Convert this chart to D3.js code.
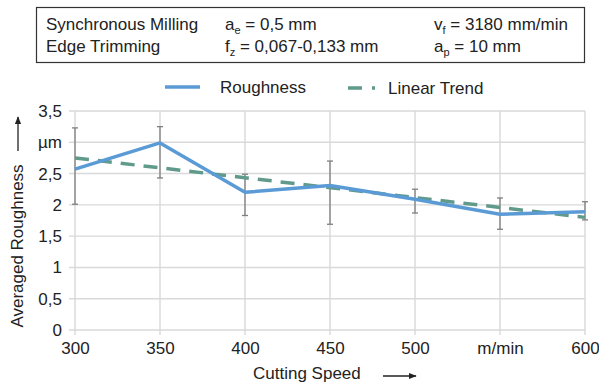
<!DOCTYPE html>
<html>
<head>
<meta charset="utf-8">
<script src="https://cdn.jsdelivr.net/npm/d3@7"></script>
<style>
  body { margin: 0; background: #fff; }
  text { font-family: "Liberation Sans", Arial, sans-serif; fill: #222; }
</style>
</head>
<body>
<svg id="chart" width="599" height="386"></svg>
<script>
// data
const speeds = [300, 350, 400, 450, 500, 550, 600];
const roughness = [2.57, 2.99, 2.2, 2.31, 2.09, 1.85, 1.89];
const errHigh = [3.23, 3.25, 2.49, 2.7, 2.25, 2.11, 2.05];
const errLow = [2.01, 2.43, 1.83, 1.69, 1.87, 1.61, 1.76];
const trendX = [300, 600];
const trendY = [2.75, 1.8];
const yTicks = [0, 0.5, 1, 1.5, 2, 2.5, 3, 3.5];
const yLabels = ["0", "0,5", "1", "1,5", "2", "2,5", "µm", "3,5"];
const xTicks = [300, 350, 400, 450, 500, 550, 600];
const xLabels = ["300", "350", "400", "450", "500", "m/min", "600"];

const margin = { top: 111, right: 14, bottom: 56, left: 75 };
const W = 599, H = 386;
const width = W - margin.left - margin.right;
const height = H - margin.top - margin.bottom;
const fs = "17px";

const svg = d3.select("#chart");

// parameter box on top
const box = svg.append("g");
box.append("rect")
  .attr("x", 36.5).attr("y", 7.5).attr("width", 548).attr("height", 55)
  .attr("fill", "none").attr("stroke", "#333").attr("stroke-width", 1.2);

function param(x, y, main, sub, rest) {
  const t = box.append("text").attr("x", x).attr("y", y).style("font-size", fs);
  t.append("tspan").text(main);
  if (sub) {
    t.append("tspan").attr("dy", 4).style("font-size", "11px").text(sub);
    t.append("tspan").attr("dy", -4).text(rest);
  }
}
param(46, 30, "Synchronous Milling");
param(46, 52, "Edge Trimming");
param(225, 30, "a", "e", " = 0,5 mm");
param(225, 52, "f", "z", " = 0,067-0,133 mm");
param(434, 30, "v", "f", " = 3180 mm/min");
param(434, 52, "a", "p", " = 10 mm");

// legend
const leg = svg.append("g");
leg.append("line").attr("x1", 165).attr("x2", 200).attr("y1", 87).attr("y2", 87)
  .attr("stroke", "#5b9bd5").attr("stroke-width", 3.5);
leg.append("text").attr("x", 220).attr("y", 93).style("font-size", fs).text("Roughness");
leg.append("line").attr("x1", 348).attr("x2", 380).attr("y1", 88).attr("y2", 88)
  .attr("stroke", "#5f9a8b").attr("stroke-width", 3.5).attr("stroke-dasharray", "14,10");
leg.append("rect").attr("x", 375).attr("y", 74).attr("width", 112).attr("height", 26).attr("fill", "#fff");
leg.append("text").attr("x", 388).attr("y", 94).style("font-size", fs).text("Linear Trend");

const g = svg.append("g").attr("transform", `translate(${margin.left},${margin.top})`);

const x = d3.scaleLinear().domain([300, 600]).range([0, width]);
const y = d3.scaleLinear().domain([0, 3.5]).range([height, 0]);

// gridlines
g.append("g").selectAll("line").data(yTicks).join("line")
  .attr("x1", -6).attr("x2", width)
  .attr("y1", d => y(d)).attr("y2", d => y(d))
  .attr("stroke", "#d9d9d9").attr("stroke-width", 1.4);
g.append("g").selectAll("line").data(xTicks).join("line")
  .attr("x1", d => x(d)).attr("x2", d => x(d))
  .attr("y1", 0).attr("y2", height + 5)
  .attr("stroke", "#d9d9d9").attr("stroke-width", 1.4);

// axes labels
const yAxis = d3.axisLeft(y).tickValues(yTicks)
  .tickFormat((d, i) => yLabels[i]).tickSize(0).tickPadding(13);
g.append("g").call(yAxis).call(s => s.select(".domain").remove())
  .selectAll("text").style("font-size", fs).attr("fill", "#222");

const xAxis = d3.axisBottom(x).tickValues(xTicks)
  .tickFormat((d, i) => xLabels[i]).tickSize(0).tickPadding(12);
g.append("g").attr("transform", `translate(0,${height})`).call(xAxis)
  .call(s => s.select(".domain").remove())
  .selectAll("text").style("font-size", fs).attr("fill", "#222");

// error bars
const eb = g.append("g").attr("stroke", "#7f7f7f").attr("stroke-width", 1.3);
speeds.forEach((s, i) => {
  eb.append("line").attr("x1", x(s)).attr("x2", x(s)).attr("y1", y(errHigh[i])).attr("y2", y(errLow[i]));
  eb.append("line").attr("x1", x(s) - 3).attr("x2", x(s) + 3).attr("y1", y(errHigh[i])).attr("y2", y(errHigh[i]));
  eb.append("line").attr("x1", x(s) - 3).attr("x2", x(s) + 3).attr("y1", y(errLow[i])).attr("y2", y(errLow[i]));
});

// trend line
g.append("path")
  .datum(trendX.map((d, i) => [d, trendY[i]]))
  .attr("d", d3.line().x(d => x(d[0])).y(d => y(d[1])))
  .attr("fill", "none").attr("stroke", "#5f9a8b").attr("stroke-width", 3.5)
  .attr("stroke-dasharray", "14,9");

// roughness line
g.append("path")
  .datum(speeds.map((d, i) => [d, roughness[i]]))
  .attr("d", d3.line().x(d => x(d[0])).y(d => y(d[1])))
  .attr("fill", "none").attr("stroke", "#5b9bd5").attr("stroke-width", 3.5)
  .attr("stroke-linejoin", "round");

// axis titles with arrows
svg.append("text")
  .attr("transform", "translate(23,246) rotate(-90)")
  .attr("text-anchor", "middle").style("font-size", fs)
  .text("Averaged Roughness");
svg.append("defs").append("marker")
  .attr("id", "arr").attr("viewBox", "0 0 10 10").attr("refX", 9).attr("refY", 5)
  .attr("markerWidth", 6).attr("markerHeight", 6).attr("orient", "auto")
  .append("path").attr("d", "M0,1 L10,5 L0,9 Z").attr("fill", "#222");
svg.append("line").attr("x1", 18).attr("x2", 18).attr("y1", 151).attr("y2", 117)
  .attr("stroke", "#222").attr("stroke-width", 1.3).attr("marker-end", "url(#arr)");

svg.append("text").attr("x", 253).attr("y", 379)
  .style("font-size", fs).text("Cutting Speed");
svg.append("line").attr("x1", 383).attr("x2", 416).attr("y1", 376).attr("y2", 376)
  .attr("stroke", "#222").attr("stroke-width", 1.3).attr("marker-end", "url(#arr)");
</script>
</body>
</html>
